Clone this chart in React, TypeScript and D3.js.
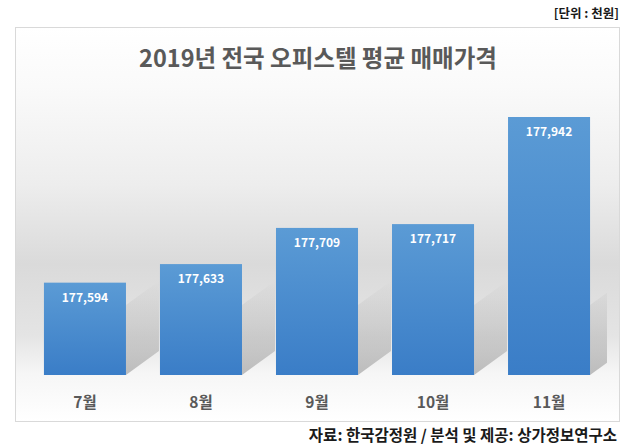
import React from 'react';
import * as d3 from 'd3';

// 월별 평균 매매가격 (천원)
const months = ['7월', '8월', '9월', '10월', '11월'];
const prices = [177594, 177633, 177709, 177717, 177942];

const titleText = '2019년 전국 오피스텔 평균 매매가격';
const unitText = '[단위 : 천원]';
const sourceText = '자료: 한국감정원 / 분석 및 제공: 상가정보연구소';

const App: React.FC = () => {
    const width = 637;
    const height = 448;
    const frame = { x: 15, y: 27, w: 604, h: 394 };
    const baseY = 375;
    const font = '"Noto Sans CJK KR", "Noto Sans", sans-serif';

    const xScale = d3.scaleBand<string>()
        .domain(months)
        .range([27, 607])
        .paddingInner(0.293)
        .paddingOuter(0.146);

    // axis is not drawn; the baseline sits well above zero
    const yScale = d3.scaleLinear()
        .domain([177400, 177942])
        .range([baseY, 117]);

    const fmt = d3.format(',');
    const shadowDx = 33;
    const shadowDy = 24;

    return (
        <svg width={width} height={height} style={{ position: 'absolute', left: 0, top: 0 }}>
            <defs>
                <linearGradient id="bg" x1="0" y1="0" x2="0" y2="1">
                    <stop offset="0" stopColor="#ffffff" />
                    <stop offset="0.15" stopColor="#fafafa" />
                    <stop offset="0.4" stopColor="#ededed" />
                    <stop offset="0.6" stopColor="#dadada" />
                    <stop offset="0.78" stopColor="#e4e4e4" />
                    <stop offset="0.88" stopColor="#f6f6f6" />
                    <stop offset="1" stopColor="#ffffff" />
                </linearGradient>
                <linearGradient id="bar" x1="0" y1="0" x2="0" y2="1">
                    <stop offset="0" stopColor="#5b9bd5" />
                    <stop offset="1" stopColor="#3a7dc7" />
                </linearGradient>
                <linearGradient id="shadow" x1="0" y1="1" x2="0" y2="0">
                    <stop offset="0" stopColor="#8c8c8c" stopOpacity={0.55} />
                    <stop offset="0.5" stopColor="#8c8c8c" stopOpacity={0.25} />
                    <stop offset="1" stopColor="#8c8c8c" stopOpacity={0} />
                </linearGradient>
                <clipPath id="plot">
                    <rect x={frame.x} y={frame.y} width={607 - frame.x} height={frame.h} />
                </clipPath>
            </defs>

            <rect width={width} height={height} fill="#ffffff" />
            <rect x={frame.x + 0.5} y={frame.y + 0.5} width={frame.w} height={frame.h}
                fill="url(#bg)" stroke="#d9d9d9" strokeWidth={1} />

            <text x={619} y={18} textAnchor="end" fontFamily={font} fontWeight={700}
                fontSize={12.5} fill="#1a1a1a">{unitText}</text>

            <text x={318} y={67} textAnchor="middle" fontFamily={font} fontWeight={700}
                fontSize={23.5} fill="#595959">{titleText}</text>

            {/* bar shadows */}
            <g clipPath="url(#plot)">
                {months.map((m, i) => {
                    const xr = (xScale(m) as number) + xScale.bandwidth();
                    const top = yScale(prices[i]);
                    const h = Math.min(baseY - top, 70);
                    const pts = [
                        [xr, baseY],
                        [xr + shadowDx, baseY - shadowDy],
                        [xr + shadowDx, baseY - shadowDy - h],
                        [xr, baseY - h],
                    ];
                    return (
                        <polygon key={m} points={pts.map(p => p.join(',')).join(' ')}
                            fill="url(#shadow)" />
                    );
                })}
            </g>

            {months.map((m, i) => {
                const x = xScale(m) as number;
                const y = yScale(prices[i]);
                const cx = x + xScale.bandwidth() / 2;
                return (
                    <g key={m}>
                        <rect x={x} y={y} width={xScale.bandwidth()} height={baseY - y}
                            fill="url(#bar)" />
                        <text x={cx} y={y + 19} textAnchor="middle" fontFamily={font}
                            fontWeight={700} fontSize={12} fill="#ffffff">{fmt(prices[i])}</text>
                        <text x={cx} y={408} textAnchor="middle" fontFamily={font}
                            fontWeight={700} fontSize={15.5} fill="#595959">{m}</text>
                    </g>
                );
            })}

            <text x={617} y={441} textAnchor="end" fontFamily={font} fontWeight={700}
                fontSize={15.5} fill="#1a1a1a">{sourceText}</text>
        </svg>
    );
};

export default App;
